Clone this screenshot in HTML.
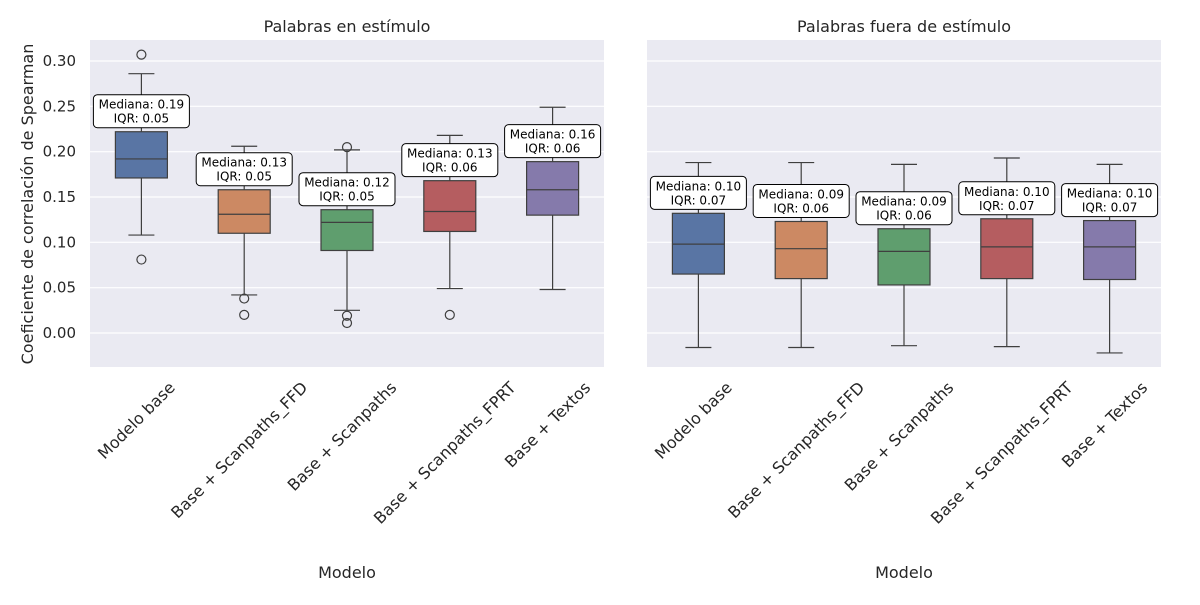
<!DOCTYPE html>
<html><head><meta charset="utf-8"><style>
body{margin:0;background:#fff;width:1200px;height:600px;overflow:hidden}
svg text{font-family:"DejaVu Sans","Liberation Sans",sans-serif}
</style></head><body>
<svg id="chart" width="1200" height="600" xmlns="http://www.w3.org/2000/svg"></svg>
<script>
const categories=["Modelo base","Base + Scanpaths_FFD","Base + Scanpaths","Base + Scanpaths_FPRT","Base + Textos"];
const colors=["#5975a4","#cc8963","#5f9e6e","#b55d60","#857aab"];
const yTicks=[0.00,0.05,0.10,0.15,0.20,0.25,0.30];
// left panel: [whiskerLow, q1, median, q3, whiskerHigh]
const leftStats=[[0.108,0.171,0.192,0.222,0.286],[0.042,0.110,0.131,0.158,0.206],[0.025,0.091,0.122,0.136,0.202],[0.049,0.112,0.134,0.168,0.218],[0.048,0.130,0.158,0.189,0.249]];
const leftOutliers=[[0.307,0.081],[0.038,0.020],[0.205,0.019,0.011],[0.020],[]];
const leftMedLabels=["0.19","0.13","0.12","0.13","0.16"];
const leftIqrLabels=["0.05","0.05","0.05","0.06","0.06"];
const rightStats=[[-0.016,0.065,0.098,0.132,0.188],[-0.016,0.060,0.093,0.123,0.188],[-0.014,0.053,0.090,0.115,0.186],[-0.015,0.060,0.095,0.126,0.193],[-0.022,0.059,0.095,0.124,0.186]];
const rightOutliers=[[],[],[],[],[]];
const rightMedLabels=["0.10","0.09","0.09","0.10","0.10"];
const rightIqrLabels=["0.07","0.06","0.06","0.07","0.07"];

const svg=document.getElementById('chart');
const NS="http://www.w3.org/2000/svg";
function mk(t,a,p){const e=document.createElementNS(NS,t);for(const k in a)e.setAttribute(k,a[k]);(p||svg).appendChild(e);return e;}
const plotTop=40,plotBot=367;
function y(v){return 333-v*906.67;}
function drawPanel(x0,w,title,stats,outs,medL,iqrL,showY,pname){
  const g=mk('g',{});
  
  
  const bg=mk('rect',{x:x0,y:plotTop,width:w,height:plotBot-plotTop,fill:'#eaeaf2'},g);
  
  
  yTicks.forEach(t=>{
    mk('line',{x1:x0,x2:x0+w,y1:y(t),y2:y(t),stroke:'#fff','stroke-width':1.2},g);
    if(showY){const tl=mk('text',{x:x0-14,y:y(t)+5,'text-anchor':'end','font-size':15,fill:'#262626'},g);tl.textContent=t.toFixed(2);
      
      }
  });
  const tt=mk('text',{x:x0+w/2,y:32,'text-anchor':'middle','font-size':16,fill:'#262626'},g);tt.textContent=title;
  
  
  const step=w/categories.length;
  categories.forEach((c,i)=>{
    const cx=x0+step*(i+0.5), bw=52, s=stats[i];
    const bg2=mk('g',{},g);
    
    
    mk('line',{x1:cx,x2:cx,y1:y(s[4]),y2:y(s[3]),stroke:'#3f3f3f','stroke-width':1.2},bg2);
    mk('line',{x1:cx,x2:cx,y1:y(s[1]),y2:y(s[0]),stroke:'#3f3f3f','stroke-width':1.2},bg2);
    mk('line',{x1:cx-13,x2:cx+13,y1:y(s[4]),y2:y(s[4]),stroke:'#3f3f3f','stroke-width':1.2},bg2);
    mk('line',{x1:cx-13,x2:cx+13,y1:y(s[0]),y2:y(s[0]),stroke:'#3f3f3f','stroke-width':1.2},bg2);
    mk('rect',{x:cx-bw/2,y:y(s[3]),width:bw,height:y(s[1])-y(s[3]),fill:colors[i],stroke:'#3f3f3f','stroke-width':1.2},bg2);
    mk('line',{x1:cx-bw/2,x2:cx+bw/2,y1:y(s[2]),y2:y(s[2]),stroke:'#3f3f3f','stroke-width':1.2},bg2);
    outs[i].forEach(o=>{const oc=mk('circle',{cx:cx,cy:y(o),r:4.5,fill:'none',stroke:'#3f3f3f','stroke-width':1.2},bg2);
      
      });
    const ab=y(s[3])-4, ah=33, aw=96;
    const an=mk('g',{},g);
    
    
    mk('rect',{x:cx-aw/2,y:ab-ah,width:aw,height:ah,rx:4,fill:'#fff',stroke:'#000','stroke-width':1},an);
    const t1=mk('text',{x:cx,y:ab-ah+14,'text-anchor':'middle','font-size':12,fill:'#000'},an);t1.textContent='Mediana: '+medL[i];
    const t2=mk('text',{x:cx,y:ab-ah+28,'text-anchor':'middle','font-size':12,fill:'#000'},an);t2.textContent='IQR: '+iqrL[i];
    const xl=mk('text',{x:0,y:0,'text-anchor':'middle','dominant-baseline':'central','font-size':16,fill:'#262626'},g);
    xl.textContent=c;
    
    
    const L=xl.getComputedTextLength(), h=16;
    const bh=(L+h)*0.7071;
    xl.setAttribute('transform',`translate(${cx-5},${379+bh/2}) rotate(-45)`);
  });
  const xt=mk('text',{x:x0+w/2,y:578,'text-anchor':'middle','font-size':16,fill:'#262626'},g);xt.textContent='Modelo';
  
  
}
drawPanel(90,514,'Palabras en estímulo',leftStats,leftOutliers,leftMedLabels,leftIqrLabels,true,'left-panel');
drawPanel(647,514,'Palabras fuera de estímulo',rightStats,rightOutliers,rightMedLabels,rightIqrLabels,false,'right-panel');
const yt=mk('text',{x:0,y:0,'text-anchor':'middle','font-size':16,fill:'#262626',transform:'translate(33,204) rotate(-90)'});
yt.textContent='Coeficiente de correlación de Spearman';


</script>
</body></html>
